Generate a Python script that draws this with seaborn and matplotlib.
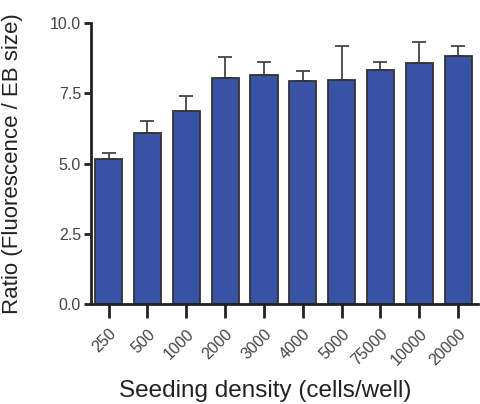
import pandas as pd
import matplotlib.pyplot as plt
import seaborn as sns

densities = ["250", "500", "1000", "2000", "3000", "4000", "5000", "75000", "10000", "20000"]
ratio = [5.17, 6.08, 6.87, 8.03, 8.14, 7.95, 7.97, 8.33, 8.58, 8.84]
err_top = [5.39, 6.50, 7.39, 8.78, 8.61, 8.30, 9.19, 8.61, 9.31, 9.19]

df = pd.DataFrame({"density": densities, "ratio": ratio, "err_top": err_top})
df["sd"] = df["err_top"] - df["ratio"]

sns.set_style("ticks")
plt.rcParams["font.family"] = ["Liberation Sans", "DejaVu Sans"]

fig = plt.figure(figsize=(4.8, 4.04), dpi=100)
ax = fig.add_axes([0.189, 0.2475, 0.806, 0.6955])

sns.barplot(data=df, x="density", y="ratio", color="#3953a4", saturation=1,
            width=0.7, edgecolor="#333333", linewidth=1.3, errorbar=None, ax=ax, zorder=2)

# one-sided error bars (upper only)
ax.errorbar(range(len(df)), df["ratio"], yerr=[[0] * len(df), df["sd"]],
            fmt="none", ecolor="#444444", elinewidth=1.3, capsize=5, capthick=1.3, zorder=1)

ax.set_xlim(-0.46, 9.5)
ax.set_ylim(0, 10)
ax.set_yticks([0, 2.5, 5, 7.5, 10])
ax.set_yticklabels(["0.0", "2.5", "5.0", "7.5", "10.0"])
sns.despine(ax=ax)
for s in ["left", "bottom"]:
    ax.spines[s].set_linewidth(2)
    ax.spines[s].set_color("#222222")

ax.tick_params(axis="y", length=5, width=2, color="#222222", labelsize=11.5, labelcolor="#444444", pad=2)
ax.tick_params(axis="x", length=10, width=2, color="#222222", labelsize=11.5, labelcolor="#444444", pad=6)
plt.setp(ax.get_xticklabels(), rotation=45, ha="right", rotation_mode="anchor")

ax.set_xlabel("Seeding density (cells/well)", fontsize=17.5, color="#222222")
ax.xaxis.set_label_coords(0.45, -0.27)
ax.set_ylabel("Ratio (Fluorescence / EB size)", fontsize=16, color="#222222")
ax.yaxis.set_label_coords(-0.175, 0.5)

plt.savefig("out.png", dpi=100)
